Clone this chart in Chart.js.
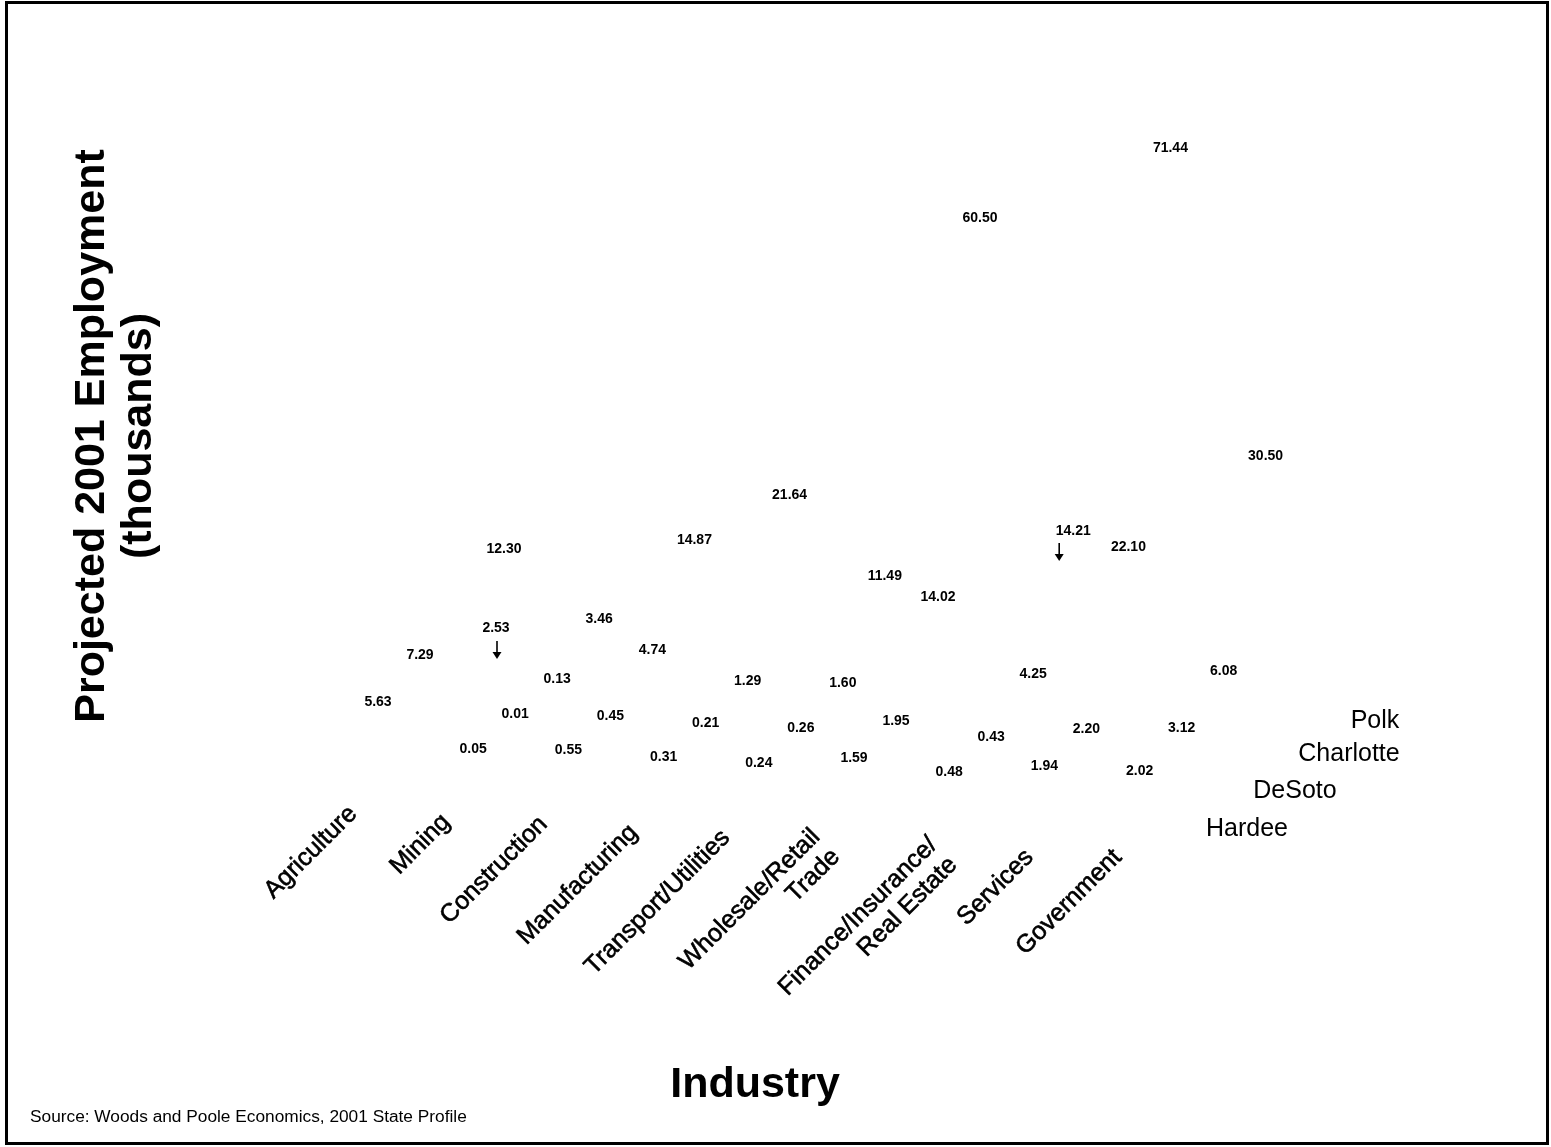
<!DOCTYPE html>
<html>
<head>
<meta charset="utf-8">
<script src="https://cdn.jsdelivr.net/npm/chart.js@4"></script>
<style>
  html, body { margin: 0; padding: 0; background: #ffffff; }
  #c { display: block; }
</style>
</head>
<body>
<canvas id="c" width="1551" height="1147"></canvas>
<script>
// ---------------- DATA ----------------
const categories = [
  'Agriculture', 'Mining', 'Construction', 'Manufacturing', 'Transport/Utilities',
  ['Wholesale/Retail', 'Trade'], ['Finance/Insurance/', 'Real Estate'], 'Services', 'Government'
];
// depth rows, front to back
const seriesNames = ['Hardee', 'DeSoto', 'Charlotte', 'Polk'];
const hardee    = [5.63, 0.05, 0.55, 0.31, 0.24, 1.59, 0.48, 1.94, 2.02];
const desoto    = [7.29, 0.01, 0.45, 0.21, 0.26, 1.95, 0.43, 2.20, 3.12];
const charlotte = [2.53, 0.13, 4.74, 1.29, 1.60, 14.02, 4.25, 22.10, 6.08];
const polk      = [12.30, 3.46, 14.87, 21.64, 11.49, 60.50, 14.21, 71.44, 30.50];
const seriesValues = [hardee, desoto, charlotte, polk];

const yTitle = ['Projected 2001 Employment', '(thousands)'];
const xTitle = 'Industry';
const sourceNote = 'Source: Woods and Poole Economics, 2001 State Profile';

// ---------------- STYLE / PROJECTION ----------------
const FONT = '"Liberation Sans", Arial, Helvetica, sans-serif';
const DEPTH_DX = 42;     // px shift right per depth row
const DEPTH_DY = 34.7;   // px shift up per depth row
const SKEW_Y = 5.2;      // px drop per category (floor tilt)
const CAT_DX = -20, CAT_DY = 72;   // category label anchor relative to front row base
const catNudgeX = [0, -2, 0, -5, -8, -13, 9, 10, 3];
const catNudgeY = [0, 3, 0, 3, 3, -3, 0, 7, 2];
// labels moved off their bar top with a leader arrow: [row, category, dx, dy, arrowDx, arrowTop, arrowBottom]
const callouts = [
  [2, 0, 34, -27, 1, 13, 31],
  [3, 6, -2, -34, -14, 12, 30]
];
const depthLabelPos = [[1247, 829], [1295, 791], [1349, 754], [1375, 721]];

const datasets = seriesNames.map((name, r) => ({
  label: name,
  data: seriesValues[r].map((v, i) => ({ x: i, y: v })),
  pointRadius: 0,
  pointHoverRadius: 0,
  showLine: false
}));

function drawArrow(ctx, x, y1, y2) {
  ctx.save();
  ctx.strokeStyle = '#000';
  ctx.fillStyle = '#000';
  ctx.lineWidth = 1.6;
  ctx.beginPath();
  ctx.moveTo(x, y1);
  ctx.lineTo(x, y2 - 5);
  ctx.stroke();
  ctx.beginPath();
  ctx.moveTo(x - 4.5, y2 - 7);
  ctx.lineTo(x + 4.5, y2 - 7);
  ctx.lineTo(x, y2);
  ctx.closePath();
  ctx.fill();
  ctx.restore();
}

const pseudo3d = {
  id: 'pseudo3d',
  beforeDraw(chart) {
    const ctx = chart.ctx;
    ctx.save();
    ctx.fillStyle = '#ffffff';
    ctx.fillRect(0, 0, chart.width, chart.height);
    ctx.restore();
  },
  afterDraw(chart) {
    const ctx = chart.ctx;
    const xs = chart.scales.x, ys = chart.scales.y;
    ctx.save();
    // frame
    ctx.strokeStyle = '#000';
    ctx.lineWidth = 3;
    ctx.strokeRect(6.5, 2.5, 1541, 1141);

    // value labels
    ctx.fillStyle = '#000';
    ctx.font = 'bold 14px ' + FONT;
    ctx.textAlign = 'center';
    ctx.textBaseline = 'middle';
    chart.data.datasets.forEach((ds, r) => {
      const meta = chart.getDatasetMeta(r);
      meta.data.forEach((el, i) => {
        let x = el.x + r * DEPTH_DX;
        let y = el.y + i * SKEW_Y - r * DEPTH_DY + 1;
        const co = callouts.find(c => c[0] === r && c[1] === i);
        if (co) {
          x += co[2]; y += co[3] - 1;
          drawArrow(ctx, x + co[4], y + co[5], y + co[6]);
        }
        ctx.fillText(ds.data[i].y.toFixed(2), x, y);
      });
    });

    // category labels (rotated)
    ctx.font = '25px ' + FONT;
    ctx.textAlign = 'right';
    ctx.textBaseline = 'alphabetic';
    ctx.strokeStyle = '#000';
    ctx.lineWidth = 0.6;
    categories.forEach((cat, i) => {
      const ax = xs.getPixelForValue(i) + CAT_DX + catNudgeX[i];
      const ay = ys.getPixelForValue(0) + i * SKEW_Y + CAT_DY + catNudgeY[i];
      const lines = Array.isArray(cat) ? cat : [cat];
      ctx.save();
      ctx.translate(ax, ay);
      ctx.rotate(-Math.PI / 4);
      lines.forEach((ln, k) => { ctx.fillText(ln, 0, k * 28); ctx.strokeText(ln, 0, k * 28); });
      ctx.restore();
    });

    // depth (series) labels
    ctx.textAlign = 'center';
    ctx.textBaseline = 'middle';
    seriesNames.forEach((n, r) => {
      ctx.fillText(n, depthLabelPos[r][0], depthLabelPos[r][1]);
    });

    // axis titles
    ctx.font = 'bold 43px ' + FONT;
    ctx.save();
    ctx.translate(92, 436);
    ctx.rotate(-Math.PI / 2);
    ctx.textAlign = 'center';
    ctx.textBaseline = 'middle';
    ctx.fillText(yTitle[0], 0, 0);
    ctx.fillText(yTitle[1], 0, 47);
    ctx.restore();

    ctx.textAlign = 'center';
    ctx.textBaseline = 'alphabetic';
    ctx.fillText(xTitle, 755, 1097);

    ctx.font = '17.3px ' + FONT;
    ctx.textAlign = 'left';
    ctx.fillText(sourceNote, 30, 1122);
    ctx.restore();
  }
};

// scales: x -> 378 + 95.2*i ; y -> 743 - 7.4*v
const X0 = 378, XS = 95.2, Y0 = 743, YS = 7.4;
const W = 1551, H = 1147;
new Chart(document.getElementById('c'), {
  type: 'scatter',
  data: { datasets },
  options: {
    responsive: false,
    animation: false,
    layout: { padding: 0 },
    plugins: { legend: { display: false }, tooltip: { enabled: false }, title: { display: false } },
    scales: {
      x: { type: 'linear', display: false, min: -X0 / XS, max: (W - X0) / XS },
      y: { type: 'linear', display: false, min: (Y0 - H) / YS, max: Y0 / YS }
    }
  },
  plugins: [pseudo3d]
});
</script>
</body>
</html>
